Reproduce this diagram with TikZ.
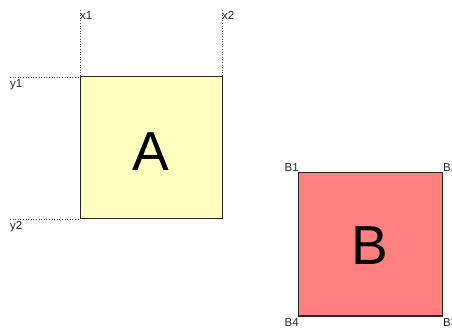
\documentclass[tikz,border=0pt]{standalone}
\usepackage{fontspec}
\setmainfont{Liberation Sans}
\begin{document}
\begin{tikzpicture}[x=1pt,y=-1pt,
  box/.style={draw=black!85,line width=1pt,minimum size=0pt},
  guide/.style={dotted,line width=0.6pt,black!70},
  lbl/.style={font=\fontsize{11.5}{13}\selectfont,text=black!85,inner sep=0pt},
  big/.style={font=\fontsize{55}{60}\selectfont}]
\useasboundingbox (0,0) rectangle (452,328);
\definecolor{ayel}{RGB}{255,255,192}
\definecolor{bred}{RGB}{255,128,128}
% box A
\coordinate (a1) at (80,77);
\coordinate (a3) at (222,219);
\fill[ayel] (a1) rectangle (a3);
\draw[box] (a1) rectangle (a3);
\node[big] (A) at (151,152) {A};
% guides
\coordinate (gx1) at (80,10);
\coordinate (gx2) at (222,10);
\coordinate (gy1) at (10,77);
\coordinate (gy2) at (10,219);
\coordinate (a2) at (222,77);
\coordinate (a4) at (80,219);
\draw[guide] (gx1) -- (a1);
\draw[guide] (gx2) -- (a2);
\draw[guide] (gy1) -- (a1);
\draw[guide] (gy2) -- (a4);
\node[lbl,anchor=south west] (x1) at (80,19.5) {x1};
\node[lbl,anchor=south west] (x2) at (222,19.5) {x2};
\node[lbl,anchor=north west] (y1) at (10,79) {y1};
\node[lbl,anchor=north west] (y2) at (10,221) {y2};
% box B
\coordinate (b1) at (298,173);
\coordinate (b3) at (442,316);
\fill[bred] (b1) rectangle (b3);
\draw[box] (b1) rectangle (b3);
\node[big] (B) at (370,246) {B};
\node[lbl,anchor=south east] (B1) at (299,171.5) {B1};
\node[lbl,anchor=south west] (B2) at (443,171.5) {B2};
\node[lbl,anchor=north east] (B4) at (299,318) {B4};
\node[lbl,anchor=north west] (B3) at (443,318) {B3};
\end{tikzpicture}
\end{document}
